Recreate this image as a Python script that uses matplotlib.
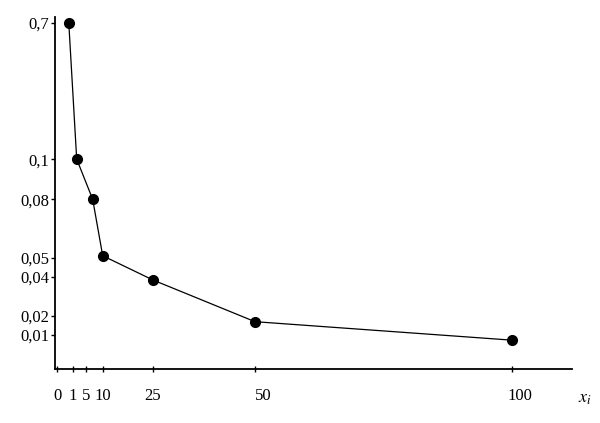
import numpy as np
import matplotlib
matplotlib.use("Agg")
import matplotlib.pyplot as plt
from matplotlib.transforms import ScaledTranslation

# --- data ---
x_vals = [0.75, 2.2, 7.0, 10.0, 25.0, 50.0, 100.0]
y_vals = [0.70, 0.101, 0.080, 0.051, 0.0383, 0.0169, 0.0085]

x_ticks = [0, 1, 5, 10, 25, 50, 100]
x_ticklabels = ["0", "1", "5", "10", "25", "50", "100"]
y_ticks = [0.01, 0.02, 0.04, 0.05, 0.08, 0.1, 0.7]
y_ticklabels = ["0,01", "0,02", "0,04", "0,05", "0,08", "0,1", "0,7"]

# --- non-uniform (hand-drawn) axis scales, piecewise linear ---
W, H = 600, 423
xk_data = [-10, 0, 1, 5, 10, 25, 50, 100, 200]
xk_pix = [57 - 157, 57, 72.7, 86, 102.7, 153, 255, 511.7, 1023.7]
yk_data = [-0.1, 0, 0.01, 0.02, 0.04, 0.05, 0.08, 0.1, 0.7, 1.7]
yk_pix_top = [369.3 + 343, 369.3, 335, 315.7, 276.7, 257.7, 199.3, 159.3, 22.7, 22.7 - 227.7]
yk_pix = [H - p for p in yk_pix_top]


def xf(v):
    return np.interp(v, xk_data, xk_pix)


def xi(p):
    return np.interp(p, xk_pix, xk_data)


def yf(v):
    return np.interp(v, yk_data, yk_pix)


def yi(p):
    return np.interp(p, yk_pix, yk_data)


plt.rcParams["font.family"] = ["Liberation Serif", "DejaVu Serif"]
plt.rcParams["mathtext.fontset"] = "stix"

fig = plt.figure(figsize=(W / 100, H / 100), dpi=100)
left, right, top, bottom = 55, 572, 17, 369.3
ax = fig.add_axes([left / W, 1 - bottom / H, (right - left) / W, (bottom - top) / H])
ax.set_xscale("function", functions=(xf, xi))
ax.set_yscale("function", functions=(yf, yi))
ax.set_xlim(xi(left), xi(right))
ax.set_ylim(yi(H - bottom), yi(H - top))

ax.plot(x_vals, y_vals, color="black", lw=0.9, marker="o", markersize=7,
        markerfacecolor="black", markeredgecolor="black")

ax.set_xticks(x_ticks)
ax.set_xticklabels(x_ticklabels)
ax.set_yticks(y_ticks)
ax.set_yticklabels(y_ticklabels)
ax.minorticks_off()
ax.tick_params(axis="x", direction="inout", length=5, width=1, labelsize=12, pad=11)
ax.tick_params(axis="y", direction="out", length=3, width=1, labelsize=12, pad=1)

# the printed labels for 50 and 100 sit a little right of their ticks
for lab in ax.get_xticklabels():
    if lab.get_text() in ("50", "100"):
        lab.set_transform(lab.get_transform() + ScaledTranslation(8 / 100, 0, fig.dpi_scale_trans))

for s in ["top", "right"]:
    ax.spines[s].set_visible(False)
ax.spines["left"].set_linewidth(1.3)
ax.spines["bottom"].set_linewidth(1.3)

fig.text(585 / W, 1 - 398 / H, r"$x_i$", fontsize=13, ha="center", va="center")

fig.savefig("out.png", dpi=100, facecolor="white")
